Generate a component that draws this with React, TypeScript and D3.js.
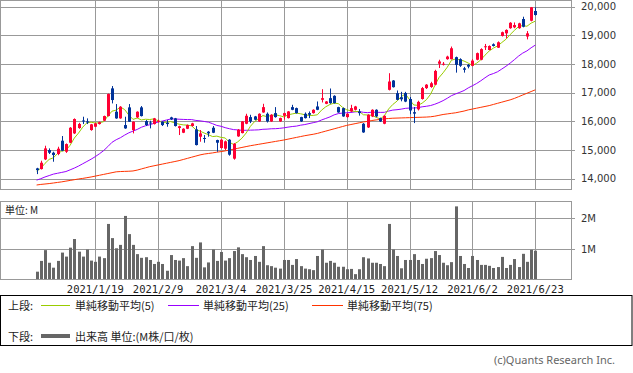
import React from "react";
import * as d3 from "d3";

const W = 633;
const H = 373;

const tickLabels = ["2021/1/19", "2021/2/9", "2021/3/4", "2021/3/25", "2021/4/15", "2021/5/12", "2021/6/2", "2021/6/23"];
const tickIndex = [14, 29, 44, 59, 74, 89, 104, 119];
const priceTicks = [14000, 15000, 16000, 17000, 18000, 19000, 20000];
const volTicks = [1, 2];
const volTickLabels = ["1M", "2M"];

const open = [14360,14336,14674,15000,14906,14860,15325,14941,15255,15581,15767,16030,16000,15697,15813,15906,16023,16185,17151,16337,16104,15871,16488,15697,16139,16488,16011,15960,15906,15990,15988,15953,16139,16104,15767,15604,15743,15837,15720,15464,15420,15639,15778,15348,15070,15047,15360,14699,15476,15592,15917,16149,16172,15998,16311,16265,15998,16288,15998,16195,16114,16497,16462,16149,16265,16288,16288,16520,16752,16613,16810,16891,16497,16462,16149,16346,16404,16346,15917,15789,16172,16404,16114,15917,17100,17425,16984,16840,16990,16780,16320,16420,16780,17160,17200,17280,18010,17990,18170,18170,18240,18170,17850,17970,17940,18150,18150,18590,18490,18690,18570,18980,19070,19250,19280,19250,19570,18960,19510,19850];
const high = [14380,14627,15150,15057,14941,15115,15488,15230,15800,16104,15950,16162,16104,15910,15950,15990,16200,16970,17232,16604,16530,16162,16604,16000,16350,16534,16046,16023,16120,16060,16000,16046,16160,16120,15850,15760,15890,15950,15837,15697,15523,15662,15837,15360,15380,15330,15380,15240,15731,16010,16265,16230,16190,16280,16613,16311,16250,16497,16130,16300,16360,16578,16480,16160,16311,16346,16420,16694,17123,16710,17147,16910,16510,16480,16280,16578,16540,16430,15940,16250,16420,16420,16130,16210,17680,17440,17077,17030,17030,16850,16500,16720,17200,17300,17380,17800,18150,18070,18290,18610,18260,18200,17900,18000,18170,18400,18550,18700,18650,18720,18790,19130,19210,19460,19450,19440,19650,19150,19990,19980];
const low = [14160,14320,14650,14860,14592,14820,14960,14900,15240,15560,15740,15906,15906,15674,15800,15890,16010,16170,16627,16090,16090,15740,15980,15581,16120,16170,15837,15755,15890,15960,15837,15813,16050,15820,15523,15590,15730,15820,15160,15290,15255,15464,15590,14941,15050,15000,14803,14664,15460,15580,15900,15940,16040,15980,16300,15960,15980,16130,15980,16060,16100,16390,16270,15980,16100,16114,16270,16390,16659,16600,16613,16620,16300,16160,16130,16330,16380,16200,15600,15770,16150,16150,15980,15900,17080,17180,16740,16700,16670,16250,15940,16380,16760,17130,17170,17260,17860,17950,18150,18160,17700,17900,17700,17850,17920,18130,18130,18490,18480,18610,18560,18960,18900,19230,19250,19230,19280,18860,19490,19690];
const close = [14300,14557,15057,14906,14825,15046,14976,15208,15778,16081,15910,16010,15960,15895,15930,15970,16185,16953,16744,16104,16511,15755,15988,15988,16337,16185,15871,15940,16104,16020,15871,15906,16069,15837,15830,15743,15871,15930,15174,15581,15406,15581,15604,15255,15360,15302,14838,15221,15708,15998,16195,15998,16056,16265,16497,15998,16230,16149,16114,16288,16346,16404,16288,15998,16114,16230,16404,16404,16810,16694,16636,16636,16311,16172,16265,16462,16520,16288,15615,16230,16404,16172,15998,16195,17390,17193,16752,16770,16690,16380,16270,16680,17160,17280,17330,17760,18090,18010,18260,18550,17970,17940,17800,17910,18120,18380,18520,18620,18630,18630,18760,19110,19190,19440,19360,19420,19300,19070,19980,19710];
const volume = [0.27,0.62,0.97,0.56,0.40,0.62,0.89,0.76,1.05,1.33,0.92,0.76,0.99,0.63,0.59,0.76,0.71,1.82,1.36,1.03,1.14,2.08,1.49,1.14,0.84,0.72,0.74,0.65,0.52,0.59,0.52,0.30,0.81,0.65,0.63,0.71,0.45,1.10,0.72,1.22,0.41,0.57,0.99,0.62,0.91,0.63,0.71,0.94,1.06,0.84,0.74,0.65,0.78,0.59,1.10,0.48,0.45,0.40,0.37,0.65,0.65,0.49,0.68,0.45,0.37,0.35,0.32,0.78,0.99,0.56,0.62,0.56,0.43,0.43,0.35,0.36,0.19,0.35,0.74,0.70,0.56,0.56,0.52,0.45,1.82,0.99,0.78,0.38,0.65,0.65,0.84,0.65,0.52,0.69,0.71,0.94,0.81,0.56,0.48,0.58,2.39,0.78,0.52,0.39,0.78,0.65,0.49,0.49,0.46,0.39,0.42,0.75,0.39,0.49,0.68,0.42,0.85,0.59,0.98,0.95];
const ma5Start = [14266, 14360, 14534, 14674];
const ma25Start = [13950,14000,14060,14110,14160,14190,14220,14250,14310,14370,14440,14520,14600,14680,14770,14870,14980,15120,15270,15360,15430,15520,15600,15660];
const ma75 = [13780,13800,13815,13830,13850,13870,13890,13915,13940,13965,13990,14010,14035,14060,14090,14120,14150,14180,14210,14240,14250,14255,14260,14270,14300,14340,14380,14420,14450,14480,14510,14540,14570,14600,14630,14670,14710,14750,14790,14830,14860,14880,14900,14925,14945,14970,15000,15030,15060,15090,15120,15150,15175,15200,15225,15250,15275,15300,15325,15350,15380,15410,15440,15470,15500,15525,15550,15580,15620,15660,15700,15740,15780,15820,15860,15890,15920,15950,15980,16000,16030,16050,16070,16090,16100,16110,16115,16120,16125,16130,16135,16140,16145,16150,16160,16180,16210,16240,16260,16280,16300,16330,16360,16400,16430,16460,16490,16520,16550,16590,16630,16670,16710,16750,16800,16860,16920,16980,17040,17100];

const legendItems = [
  { label: "単純移動平均(5)", color: "#99cc00", x1: 41, x2: 70, tx: 75 },
  { label: "単純移動平均(25)", color: "#9900ff", x1: 168, x2: 199, tx: 203 },
  { label: "単純移動平均(75)", color: "#ff3300", x1: 312, x2: 343, tx: 347 },
];

const UP = "#ff0033";
const DOWN = "#003399";
const GRID = "#999999";
const NUM_FONT = "'DejaVu Sans', sans-serif";
const JP_FONT = "'Noto Sans CJK JP', sans-serif";

export default function App() {
  const n = close.length;
  const x = d3.scaleLinear().domain([0, n - 1]).range([36.6, 535.3]);
  const y = d3.scaleLinear().domain([14000, 20000]).range([178.7, 6.7]);
  const yv = d3.scaleLinear().domain([0, 2]).range([280, 218.4]);
  const crisp = (v: number) => Math.round(v) + 0.5;

  const ma5 = close.map((c, i) => (i < 4 ? ma5Start[i] : (d3.mean(close.slice(i - 4, i + 1)) as number)));
  const ma25 = close.map((c, i) => (i < 24 ? ma25Start[i] : (d3.mean(close.slice(i - 24, i + 1)) as number)));

  const line = d3
    .line<number>()
    .x((d, i) => x(i))
    .y((d) => y(d));

  const mainTop = 0.5, mainBottom = 189.5, left = 0.5, right = 571.5;
  const volTop = 201.5, volBottom = 279.5;

  return (
    <svg width={W} height={H} style={{ position: "absolute", left: 0, top: 0, background: "#fff" }}>
      <rect x={0} y={0} width={W} height={H} fill="#fff" />
      {/* main panel grid */}
      {priceTicks.map((p) => (
        <g key={p}>
          <line x1={left} x2={575} y1={crisp(y(p))} y2={crisp(y(p))} stroke={GRID} />
          <text x={581} y={y(p)} dominantBaseline="central" fontFamily={NUM_FONT} fontSize={10} fill="#333">
            {d3.format(",")(p)}
          </text>
        </g>
      ))}
      {tickIndex.map((ti) => (
        <line key={"gv" + ti} x1={crisp(x(ti))} x2={crisp(x(ti))} y1={mainTop} y2={mainBottom} stroke={GRID} />
      ))}
      <rect x={left} y={mainTop} width={right - left} height={mainBottom - mainTop} fill="none" stroke={GRID} />

      {/* moving averages */}
      <path d={line(ma75) || ""} fill="none" stroke="#ff3300" strokeWidth={1} />
      <path d={line(ma25) || ""} fill="none" stroke="#9900ff" strokeWidth={1} />
      <path d={line(ma5) || ""} fill="none" stroke="#99cc00" strokeWidth={1} />

      {/* candles */}
      {close.map((c, i) => {
        const o = open[i];
        const up = c >= o;
        const col = up ? UP : DOWN;
        const cx = Math.round(x(i));
        const yTop = y(Math.max(o, c));
        const yBot = y(Math.min(o, c));
        return (
          <g key={"c" + i}>
            <line x1={cx + 0.5} x2={cx + 0.5} y1={y(high[i])} y2={y(low[i])} stroke={col} />
            <rect x={cx - 1} y={yTop} width={3} height={Math.max(1, yBot - yTop)} fill={col} />
          </g>
        );
      })}

      {/* volume panel */}
      {volTicks.map((v, k) => (
        <g key={"vt" + v}>
          <line x1={left} x2={575} y1={crisp(yv(v))} y2={crisp(yv(v))} stroke={GRID} />
          <text x={581} y={yv(v)} dominantBaseline="central" fontFamily={NUM_FONT} fontSize={10} fill="#333">
            {volTickLabels[k]}
          </text>
        </g>
      ))}
      {tickIndex.map((ti) => (
        <line key={"vv" + ti} x1={crisp(x(ti))} x2={crisp(x(ti))} y1={volTop} y2={volBottom} stroke={GRID} />
      ))}
      {volume.map((v, i) => {
        const cx = Math.round(x(i));
        return <rect key={"v" + i} x={cx - 1} y={yv(v)} width={3} height={yv(0) - yv(v)} fill="#666666" />;
      })}
      <rect x={left} y={volTop} width={right - left} height={volBottom - volTop} fill="none" stroke={GRID} />
      <text x={5} y={209} dominantBaseline="central" fontFamily={JP_FONT} fontSize={10} fill="#222">
        単位: M
      </text>

      {/* date labels */}
      {tickIndex.map((ti, k) => (
        <text
          key={"dl" + ti}
          x={x(ti)}
          y={289}
          textAnchor="middle"
          dominantBaseline="central"
          fontFamily="'DejaVu Sans Mono', monospace"
          fontSize={10.5}
          fill="#222"
        >
          {tickLabels[k]}
        </text>
      ))}

      {/* legend */}
      <rect x={0.5} y={295.5} width={631.5} height={50} fill="none" stroke="#000" />
      <text x={8} y={305} dominantBaseline="central" fontFamily={JP_FONT} fontSize={11} fill="#222">
        上段:
      </text>
      {legendItems.map((it) => (
        <g key={it.label}>
          <line x1={it.x1} x2={it.x2} y1={305.5} y2={305.5} stroke={it.color} strokeWidth={1} />
          <text x={it.tx} y={305} dominantBaseline="central" fontFamily={JP_FONT} fontSize={11} fill="#222">
            {it.label}
          </text>
        </g>
      ))}
      <text x={8} y={336} dominantBaseline="central" fontFamily={JP_FONT} fontSize={11} fill="#222">
        下段:
      </text>
      <line x1={41} x2={70} y1={336} y2={336} stroke="#666666" strokeWidth={4} />
      <text x={75} y={336} dominantBaseline="central" fontFamily={JP_FONT} fontSize={11} fill="#222">
        出来高 単位:(M株/口/枚)
      </text>

      <text x={615} y={359} textAnchor="end" dominantBaseline="central" fontFamily="'Noto Sans', sans-serif" fontSize={11} fill="#666">
        (c)Quants Research Inc.
      </text>
    </svg>
  );
}
